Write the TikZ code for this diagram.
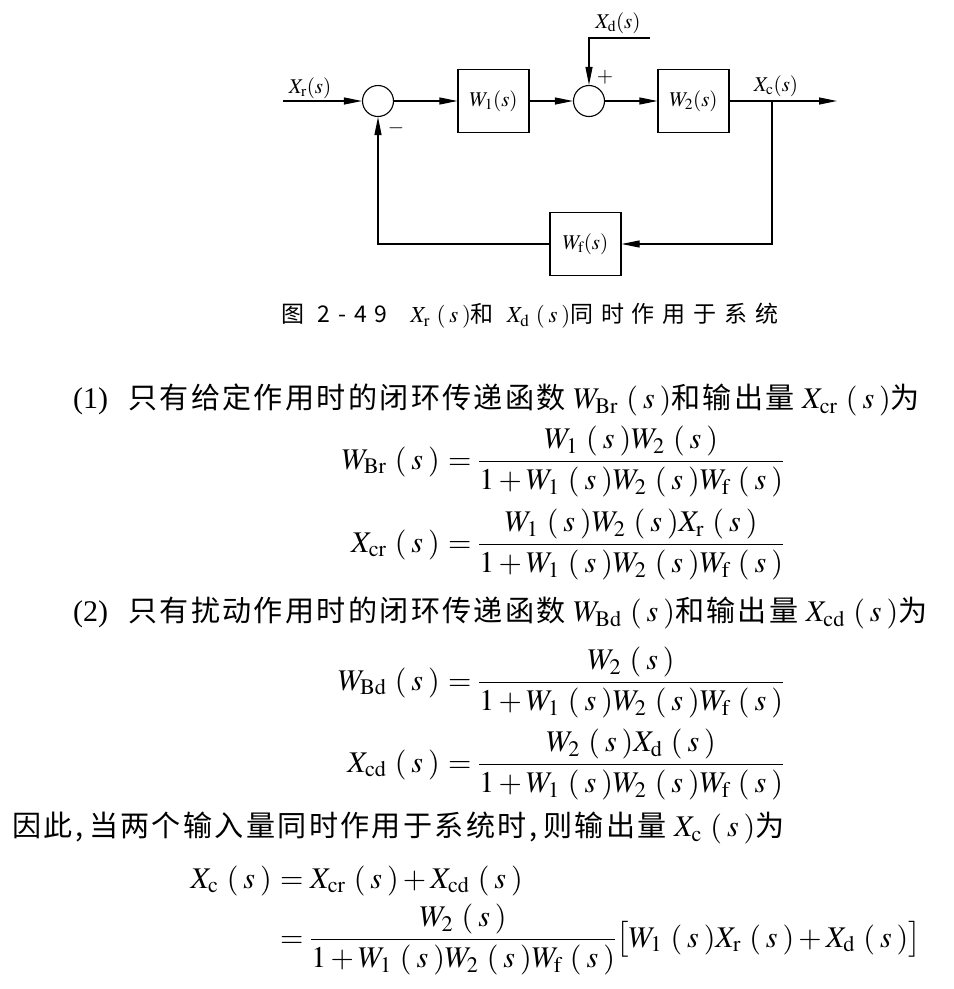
\documentclass[tikz,border=0pt]{standalone}
\usepackage{amsmath}
\usepackage{mathptmx}
\usepackage{fontspec}
\setmainfont{Liberation Serif}
\newfontfamily\cjk[LetterSpace=8,Scale=0.97]{Noto Sans CJK SC}
\newfontfamily\cjkleg[LetterSpace=34]{Noto Sans CJK SC}
\newcommand{\Ps}{\mkern5mu(\mkern3mu s\mkern3mu)}
\usetikzlibrary{arrows.meta}
\tikzset{
Bloc/.style={
 draw=black,
 line width=1.2pt,
 minimum width=71pt,
 minimum height=63pt,
 inner sep=0pt,
 font=\fontsize{21}{25}\selectfont
 },
Somme/.style={
 draw=black,
 line width=1.1pt,
 circle,
 minimum size=31pt,
 inner sep=0pt
 },
Fleche/.style={
 draw=black,
 line width=1.1pt,
 -{Triangle[length=18pt,width=7pt]}
 },
Etiq/.style={
 font=\fontsize{21}{25}\selectfont,
 inner sep=0pt
 },
Texte/.style={
 font=\fontsize{30}{36}\selectfont,
 anchor=west,
 inner sep=0pt
 },
Eq/.style={
 font=\fontsize{30}{36}\selectfont,
 inner sep=0pt
 }
}

\begin{document}
\begin{tikzpicture}[x=1pt,y=-1pt]
\useasboundingbox (0,0) rectangle (954,989);
\node[Somme] (s1) at (378,101) {};
\node[Bloc] (w1) at (493.5,101) {$W_1(s)$};
\node[Somme] (s2) at (589,101) {};
\node[Bloc] (w2) at (693.5,101) {$W_2(s)$};
\node[Bloc] (wf) at (585.5,244) {$W_{\mathrm f}(s)$};
\coordinate (xr) at (283,101);
\coordinate (br) at (772,101);
\coordinate (xc) at (837,101);
\coordinate (xd) at (650,38);
\draw[Fleche] (xr) -- (s1);
\draw[Fleche] (s1) -- (w1);
\draw[Fleche] (w1) -- (s2);
\draw[Fleche] (s2) -- (w2);
\draw[Fleche] (w2) -- (xc);
\draw[Fleche] (br) |- (wf);
\draw[Fleche] (wf) -| (s1);
\draw[Fleche] (xd) -| (s2);
\node[Etiq] (lxr) at (310,88) {$X_{\mathrm r}(s)$};
\node[Etiq] (lxd) at (618,23) {$X_{\mathrm d}(s)$};
\node[Etiq] (lxc) at (776,86) {$X_{\mathrm c}(s)$};
\node[Etiq] (plus) at (605,77) {$+$};
\node[Etiq] (moins) at (396,128) {$-$};
\node[font=\fontsize{23}{28}\selectfont] (titre) at (530,316) {\cjkleg 图 2-49\quad $X_{\mathrm r}\Ps$和 $X_{\mathrm d}\Ps$同时作用于系统};
\node[Texte] (l1) at (73,400) {(1)\hspace{20pt}{\cjk 只有给定作用时的闭环传递函数} $W_{\mathrm{Br}}\Ps${\cjk 和输出量} $X_{\mathrm{cr}}\Ps${\cjk 为}};
\node[Eq,anchor=base east] (g1) at (440,469) {$W_{\mathrm{Br}}\Ps$};
\node[Eq,anchor=base west] (d1) at (448,469) {$=\dfrac{W_1\Ps W_2\Ps}{1+W_1\Ps W_2\Ps W_{\mathrm f}\Ps}$};
\node[Eq,anchor=base east] (g2) at (440,552) {$X_{\mathrm{cr}}\Ps$};
\node[Eq,anchor=base west] (d2) at (448,552) {$=\dfrac{W_1\Ps W_2\Ps X_{\mathrm r}\Ps}{1+W_1\Ps W_2\Ps W_{\mathrm f}\Ps}$};
\node[Texte] (l2) at (73,613) {(2)\hspace{20pt}{\cjk 只有扰动作用时的闭环传递函数} $W_{\mathrm{Bd}}\Ps${\cjk 和输出量} $X_{\mathrm{cd}}\Ps${\cjk 为}};
\node[Eq,anchor=base east] (g3) at (440,690) {$W_{\mathrm{Bd}}\Ps$};
\node[Eq,anchor=base west] (d3) at (448,690) {$=\dfrac{W_2\Ps}{1+W_1\Ps W_2\Ps W_{\mathrm f}\Ps}$};
\node[Eq,anchor=base east] (g4) at (440,772) {$X_{\mathrm{cd}}\Ps$};
\node[Eq,anchor=base west] (d4) at (448,772) {$=\dfrac{W_2\Ps X_{\mathrm d}\Ps}{1+W_1\Ps W_2\Ps W_{\mathrm f}\Ps}$};
\node[Texte] (l3) at (12,828) {{\cjk 因此,\hspace{6pt}当两个输入量同时作用于系统时,\hspace{6pt}则输出量} $X_{\mathrm c}\Ps${\cjk 为}};
\node[Eq,anchor=base east] (g5) at (272,888) {$X_{\mathrm c}\Ps$};
\node[Eq,anchor=base west] (d5) at (280,888) {$=X_{\mathrm{cr}}\Ps+X_{\mathrm{cd}}\Ps$};
\node[Eq,anchor=base west] (d6) at (280,947) {$=\dfrac{W_2\Ps}{1+W_1\Ps W_2\Ps W_{\mathrm f}\Ps}\bigl[W_1\Ps X_{\mathrm r}\Ps+X_{\mathrm d}\Ps\bigr]$};
\end{tikzpicture}
\end{document}
